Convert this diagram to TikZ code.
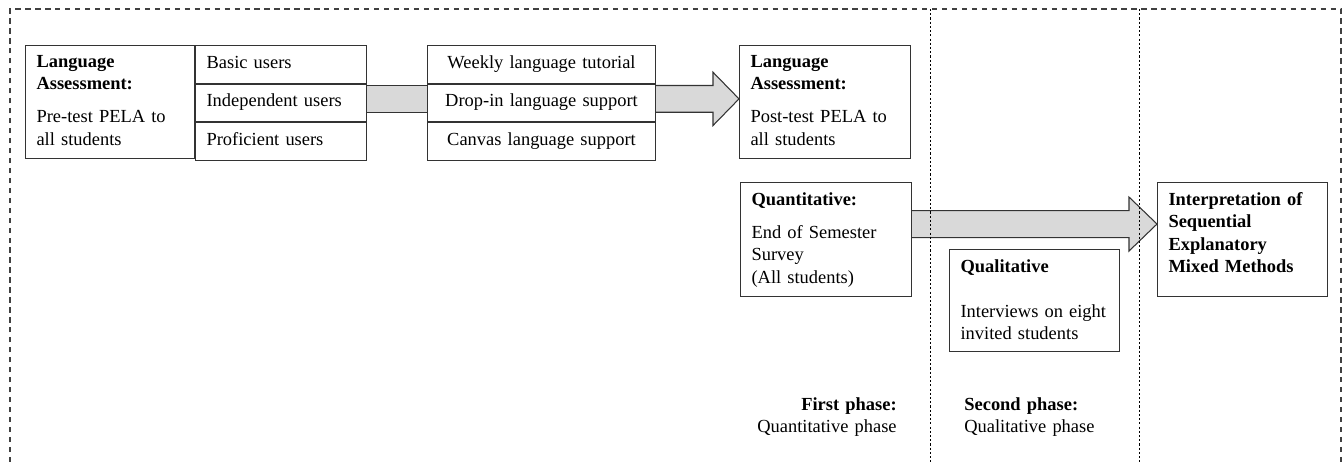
\documentclass[tikz,border=0pt]{standalone}
\usepackage{fontspec}
\setmainfont{Liberation Serif}
\usetikzlibrary{positioning,calc}

\begin{document}
\begin{tikzpicture}[
    font=\fontsize{10.5}{12.75}\selectfont,
    box/.style={draw=black!80, line width=0.6pt, rectangle, anchor=north west, align=left, inner xsep=0.22cm, inner ysep=0pt},
    cell/.style={draw=black!80, line width=0.6pt, rectangle, anchor=north west, inner xsep=0.22cm, inner ysep=0pt, text height=0.45cm, text depth=0.303cm},
    usercell/.style={cell, text width=2.98cm, align=left},
    supportcell/.style={cell, text width=4.12cm, align=center},
    bar/.style={draw=black!80, line width=0.6pt, double=gray!30, double distance=0.513cm},
    blockarrow/.style={draw=black!80, line width=0.6pt, fill=gray!30, line join=miter},
    frame/.style={draw=black!75, line width=0.6pt, dash pattern=on 3pt off 2.67pt},
    divider/.style={draw=black, line width=0.5pt, dash pattern=on 1.2pt off 1.2pt},
    phase/.style={inner sep=0pt, text height=0.4cm, text width=4cm}
]
\useasboundingbox (0,0) rectangle (26.88,-9.24);

% Pre-test
\node[box, text width=2.94cm, text height=0.44cm, text depth=1.82cm] (pretest) at (0.5,-0.9) {\textbf{Language}\\\textbf{Assessment:}\\[6pt]Pre-test PELA to\\all students};

% User groups
\node[usercell] (basic) at (pretest.north east) {Basic users};
\node[usercell, below=0pt of basic] (independent) {Independent users};
\node[usercell, below=0pt of independent] (proficient) {Proficient users};

% Language support
\node[supportcell] (weekly) at (8.54,-0.9) {Weekly language tutorial};
\node[supportcell, below=0pt of weekly] (dropin) {Drop-in language support};
\node[supportcell, below=0pt of dropin] (canvas) {Canvas language support};

% Post-test and phases
\node[box, text width=2.98cm, text height=0.44cm, text depth=1.82cm] (posttest) at (14.78,-0.9) {\textbf{Language}\\\textbf{Assessment:}\\[6pt]Post-test PELA to\\all students};
\node[box, text width=2.98cm, text height=0.46cm, text depth=1.82cm] (quant) at (14.8,-3.64) {\textbf{Quantitative:}\\[6pt]End of Semester\\Survey\\(All students)};
\node[box, text width=2.96cm, text height=0.454cm, text depth=1.586cm] (qual) at (18.98,-4.98) {\textbf{Qualitative}\\[12.75pt]Interviews on eight\\invited students};
\node[box, text width=2.96cm, text height=0.46cm, text depth=1.82cm] (interp) at (23.14,-3.64) {\textbf{Interpretation of}\\\textbf{Sequential}\\\textbf{Explanatory}\\\textbf{Mixed Methods}};

% Connections
\draw[bar] ($(independent.east |- posttest.west)+(0,0.063)$) -- ($(dropin.west |- posttest.west)+(0,0.063)$);
\draw[blockarrow] ($(dropin.east |- posttest.west)+(0,0.33)$) -- ($(posttest.west)+(-0.52,0.33)$) -- ($(posttest.west)+(-0.52,0.596)$) -- ($(posttest.west)+(0,0.063)$) -- ($(posttest.west)+(-0.52,-0.47)$) -- ($(posttest.west)+(-0.52,-0.204)$) -- ($(dropin.east |- posttest.west)+(0,-0.204)$);
\draw[blockarrow] ($(quant.east |- interp.west)+(0,0.58)$) -- ($(interp.west)+(-0.56,0.58)$) -- ($(interp.west)+(-0.56,0.85)$) -- ($(interp.west)+(0,0.31)$) -- ($(interp.west)+(-0.56,-0.23)$) -- ($(interp.west)+(-0.56,0.04)$) -- ($(quant.east |- interp.west)+(0,0.04)$);

% Phase labels
\node[phase, anchor=north east, align=right] (firstphase) at (17.94,-7.8) {\textbf{First phase:}\\Quantitative phase};
\node[phase, anchor=north west, align=left] (secondphase) at (19.28,-7.8) {\textbf{Second phase:}\\Qualitative phase};

% Frame
\draw[frame] (0.2,-9.24) -- (0.2,-0.18) -- (26.82,-0.18) -- (26.82,-9.24);
\draw[divider] (18.6,-0.18) -- (18.6,-9.24);
\draw[divider] (22.78,-0.18) -- (22.78,-9.24);

\end{tikzpicture}
\end{document}
